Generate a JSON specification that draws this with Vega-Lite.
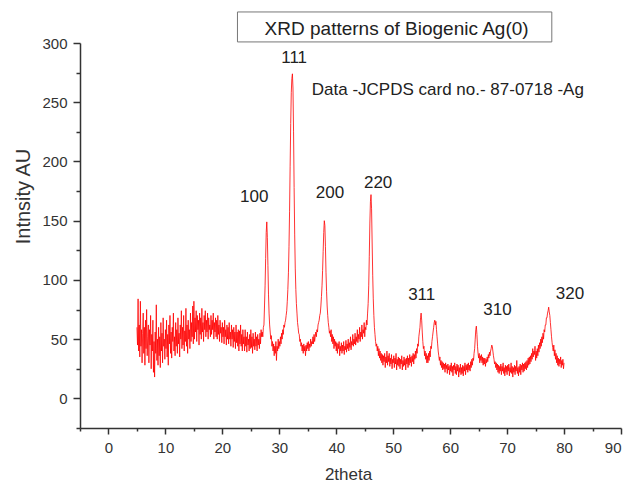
{
  "$schema": "https://vega.github.io/schema/vega-lite/v6.json",
  "autosize": {"type": "none"},
  "width": 541,
  "height": 385,
  "padding": {"left": 80, "top": 43, "right": 10, "bottom": 55},
  "background": "white",
  "config": {
    "view": {"stroke": null},
    "font": "Liberation Sans",
    "axis": {"grid": false, "domainColor": "#333", "tickColor": "#333", "labelColor": "#333", "titleColor": "#333", "domainWidth": 1.5, "tickWidth": 1.5, "labelFont": "Liberation Sans", "titleFont": "Liberation Sans", "titleFontWeight": "normal"}
  },
  "datasets": {
    "xrd": [
      {"x":5.0,"y":60},{"x":5.1,"y":45},{"x":5.2,"y":84},{"x":5.3,"y":40},{"x":5.4,"y":62},{"x":5.5,"y":35},{"x":5.6,"y":82},{"x":5.7,"y":44},{"x":5.8,"y":58},{"x":5.9,"y":30},
      {"x":6.0,"y":55},{"x":6.1,"y":72},{"x":6.2,"y":38},{"x":6.3,"y":60},{"x":6.4,"y":28},{"x":6.5,"y":66},{"x":6.6,"y":42},{"x":6.7,"y":75},{"x":6.8,"y":36},{"x":6.9,"y":52},
      {"x":7.0,"y":62},{"x":7.1,"y":30},{"x":7.2,"y":58},{"x":7.3,"y":45},{"x":7.4,"y":70},{"x":7.5,"y":25},{"x":7.6,"y":54},{"x":7.7,"y":40},{"x":7.8,"y":66},{"x":7.9,"y":22},
      {"x":8.0,"y":48},{"x":8.1,"y":18},{"x":8.2,"y":56},{"x":8.3,"y":38},{"x":8.4,"y":79},{"x":8.5,"y":32},{"x":8.6,"y":50},{"x":8.7,"y":28},{"x":8.8,"y":60},{"x":8.9,"y":36},
      {"x":9.0,"y":52},{"x":9.1,"y":26},{"x":9.2,"y":64},{"x":9.3,"y":40},{"x":9.4,"y":55},{"x":9.5,"y":30},{"x":9.6,"y":68},{"x":9.7,"y":44},{"x":9.8,"y":50},{"x":9.9,"y":33},
      {"x":10.0,"y":58},{"x":10.1,"y":42},{"x":10.2,"y":66},{"x":10.3,"y":35},{"x":10.4,"y":54},{"x":10.5,"y":28},{"x":10.6,"y":62},{"x":10.7,"y":46},{"x":10.8,"y":70},{"x":10.9,"y":38},
      {"x":11.0,"y":56},{"x":11.1,"y":34},{"x":11.2,"y":60},{"x":11.3,"y":48},{"x":11.4,"y":72},{"x":11.5,"y":40},{"x":11.6,"y":52},{"x":11.7,"y":36},{"x":11.8,"y":64},{"x":11.9,"y":44},
      {"x":12.0,"y":58},{"x":12.1,"y":38},{"x":12.2,"y":68},{"x":12.3,"y":46},{"x":12.4,"y":55},{"x":12.5,"y":35},{"x":12.6,"y":62},{"x":12.7,"y":50},{"x":12.8,"y":74},{"x":12.9,"y":42},
      {"x":13.0,"y":60},{"x":13.1,"y":45},{"x":13.2,"y":70},{"x":13.3,"y":40},{"x":13.4,"y":57},{"x":13.5,"y":48},{"x":13.6,"y":76},{"x":13.7,"y":44},{"x":13.8,"y":62},{"x":13.9,"y":38},
      {"x":14.0,"y":66},{"x":14.1,"y":50},{"x":14.2,"y":58},{"x":14.3,"y":42},{"x":14.4,"y":72},{"x":14.5,"y":48},{"x":14.6,"y":64},{"x":14.7,"y":52},{"x":14.8,"y":78},{"x":14.9,"y":46},
      {"x":15.0,"y":82},{"x":15.1,"y":50},{"x":15.2,"y":68},{"x":15.3,"y":56},{"x":15.4,"y":74},{"x":15.5,"y":48},{"x":15.6,"y":70},{"x":15.7,"y":58},{"x":15.8,"y":66},{"x":15.9,"y":45},
      {"x":16.0,"y":72},{"x":16.1,"y":54},{"x":16.2,"y":68},{"x":16.3,"y":50},{"x":16.4,"y":76},{"x":16.5,"y":56},{"x":16.6,"y":64},{"x":16.7,"y":48},{"x":16.8,"y":70},{"x":16.9,"y":58},
      {"x":17.0,"y":74},{"x":17.1,"y":52},{"x":17.2,"y":66},{"x":17.3,"y":56},{"x":17.4,"y":72},{"x":17.5,"y":50},{"x":17.6,"y":68},{"x":17.7,"y":58},{"x":17.8,"y":62},{"x":17.9,"y":52},
      {"x":18.0,"y":70},{"x":18.1,"y":54},{"x":18.2,"y":66},{"x":18.3,"y":58},{"x":18.4,"y":72},{"x":18.5,"y":50},{"x":18.6,"y":64},{"x":18.7,"y":56},{"x":18.8,"y":68},{"x":18.9,"y":52},
      {"x":19.0,"y":66},{"x":19.1,"y":50},{"x":19.2,"y":70},{"x":19.3,"y":54},{"x":19.4,"y":62},{"x":19.5,"y":48},{"x":19.6,"y":66},{"x":19.7,"y":55},{"x":19.8,"y":60},{"x":19.9,"y":47},
      {"x":20.0,"y":64},{"x":20.1,"y":52},{"x":20.2,"y":60},{"x":20.3,"y":46},{"x":20.4,"y":66},{"x":20.5,"y":52},{"x":20.6,"y":58},{"x":20.7,"y":45},{"x":20.8,"y":62},{"x":20.9,"y":50},
      {"x":21.0,"y":60},{"x":21.1,"y":46},{"x":21.2,"y":64},{"x":21.3,"y":50},{"x":21.4,"y":56},{"x":21.5,"y":44},{"x":21.6,"y":62},{"x":21.7,"y":50},{"x":21.8,"y":58},{"x":21.9,"y":43},
      {"x":22.0,"y":60},{"x":22.1,"y":48},{"x":22.2,"y":56},{"x":22.3,"y":42},{"x":22.4,"y":62},{"x":22.5,"y":47},{"x":22.6,"y":56},{"x":22.7,"y":44},{"x":22.8,"y":58},{"x":22.9,"y":40},
      {"x":23.0,"y":57},{"x":23.1,"y":46},{"x":23.2,"y":62},{"x":23.3,"y":44},{"x":23.4,"y":54},{"x":23.5,"y":40},{"x":23.6,"y":58},{"x":23.7,"y":46},{"x":23.8,"y":52},{"x":23.9,"y":40},
      {"x":24.0,"y":58},{"x":24.1,"y":44},{"x":24.2,"y":52},{"x":24.3,"y":39},{"x":24.4,"y":56},{"x":24.5,"y":45},{"x":24.6,"y":50},{"x":24.7,"y":40},{"x":24.8,"y":54},{"x":24.9,"y":42},
      {"x":25.0,"y":58},{"x":25.1,"y":43},{"x":25.2,"y":52},{"x":25.3,"y":38},{"x":25.4,"y":55},{"x":25.5,"y":44},{"x":25.6,"y":50},{"x":25.7,"y":41},{"x":25.8,"y":56},{"x":25.9,"y":44},
      {"x":26.0,"y":52},{"x":26.1,"y":40},{"x":26.2,"y":54},{"x":26.3,"y":45},{"x":26.4,"y":50},{"x":26.5,"y":42},{"x":26.6,"y":55},{"x":26.7,"y":46},{"x":26.8,"y":58},{"x":26.9,"y":52},
      {"x":27.0,"y":56},{"x":27.1,"y":52},{"x":27.2,"y":60},{"x":27.3,"y":62},{"x":27.4,"y":78},{"x":27.5,"y":95},{"x":27.6,"y":118},{"x":27.7,"y":140},{"x":27.8,"y":149},{"x":27.9,"y":136},
      {"x":28.0,"y":112},{"x":28.1,"y":88},{"x":28.2,"y":72},{"x":28.3,"y":62},{"x":28.4,"y":56},{"x":28.5,"y":50},{"x":28.6,"y":53},{"x":28.7,"y":44},{"x":28.8,"y":48},{"x":28.9,"y":40},
      {"x":29.0,"y":46},{"x":29.1,"y":36},{"x":29.2,"y":44},{"x":29.3,"y":38},{"x":29.4,"y":48},{"x":29.5,"y":32},{"x":29.6,"y":44},{"x":29.7,"y":40},{"x":29.8,"y":50},{"x":29.9,"y":42},
      {"x":30.0,"y":48},{"x":30.1,"y":44},{"x":30.2,"y":52},{"x":30.3,"y":46},{"x":30.4,"y":55},{"x":30.5,"y":50},{"x":30.6,"y":58},{"x":30.7,"y":54},{"x":30.8,"y":62},{"x":30.9,"y":60},
      {"x":31.0,"y":64},{"x":31.1,"y":66},{"x":31.2,"y":70},{"x":31.3,"y":74},{"x":31.4,"y":82},{"x":31.5,"y":92},{"x":31.6,"y":106},{"x":31.7,"y":128},{"x":31.8,"y":158},{"x":31.9,"y":196},
      {"x":32.0,"y":232},{"x":32.1,"y":258},{"x":32.2,"y":270},{"x":32.3,"y":274},{"x":32.4,"y":262},{"x":32.5,"y":225},{"x":32.6,"y":178},{"x":32.7,"y":138},{"x":32.8,"y":110},{"x":32.9,"y":92},
      {"x":33.0,"y":80},{"x":33.1,"y":72},{"x":33.2,"y":64},{"x":33.3,"y":60},{"x":33.4,"y":55},{"x":33.5,"y":54},{"x":33.6,"y":48},{"x":33.7,"y":50},{"x":33.8,"y":44},{"x":33.9,"y":47},
      {"x":34.0,"y":40},{"x":34.1,"y":45},{"x":34.2,"y":38},{"x":34.3,"y":46},{"x":34.4,"y":40},{"x":34.5,"y":44},{"x":34.6,"y":36},{"x":34.7,"y":45},{"x":34.8,"y":40},{"x":34.9,"y":47},
      {"x":35.0,"y":42},{"x":35.1,"y":48},{"x":35.2,"y":40},{"x":35.3,"y":46},{"x":35.4,"y":43},{"x":35.5,"y":50},{"x":35.6,"y":44},{"x":35.7,"y":48},{"x":35.8,"y":46},{"x":35.9,"y":52},
      {"x":36.0,"y":46},{"x":36.1,"y":54},{"x":36.2,"y":48},{"x":36.3,"y":52},{"x":36.4,"y":56},{"x":36.5,"y":52},{"x":36.6,"y":58},{"x":36.7,"y":56},{"x":36.8,"y":62},{"x":36.9,"y":64},
      {"x":37.0,"y":66},{"x":37.1,"y":70},{"x":37.2,"y":72},{"x":37.3,"y":78},{"x":37.4,"y":86},{"x":37.5,"y":95},{"x":37.6,"y":108},{"x":37.7,"y":124},{"x":37.8,"y":140},{"x":37.9,"y":150},
      {"x":38.0,"y":146},{"x":38.1,"y":128},{"x":38.2,"y":106},{"x":38.3,"y":90},{"x":38.4,"y":78},{"x":38.5,"y":70},{"x":38.6,"y":64},{"x":38.7,"y":60},{"x":38.8,"y":55},{"x":38.9,"y":57},
      {"x":39.0,"y":52},{"x":39.1,"y":58},{"x":39.2,"y":48},{"x":39.3,"y":54},{"x":39.4,"y":46},{"x":39.5,"y":52},{"x":39.6,"y":42},{"x":39.7,"y":50},{"x":39.8,"y":44},{"x":39.9,"y":48},
      {"x":40.0,"y":40},{"x":40.1,"y":47},{"x":40.2,"y":38},{"x":40.3,"y":46},{"x":40.4,"y":42},{"x":40.5,"y":48},{"x":40.6,"y":36},{"x":40.7,"y":44},{"x":40.8,"y":40},{"x":40.9,"y":47},
      {"x":41.0,"y":38},{"x":41.1,"y":45},{"x":41.2,"y":40},{"x":41.3,"y":48},{"x":41.4,"y":37},{"x":41.5,"y":44},{"x":41.6,"y":41},{"x":41.7,"y":49},{"x":41.8,"y":39},{"x":41.9,"y":46},
      {"x":42.0,"y":42},{"x":42.1,"y":50},{"x":42.2,"y":40},{"x":42.3,"y":47},{"x":42.4,"y":43},{"x":42.5,"y":52},{"x":42.6,"y":41},{"x":42.7,"y":48},{"x":42.8,"y":45},{"x":42.9,"y":54},
      {"x":43.0,"y":44},{"x":43.1,"y":50},{"x":43.2,"y":46},{"x":43.3,"y":55},{"x":43.4,"y":45},{"x":43.5,"y":52},{"x":43.6,"y":48},{"x":43.7,"y":58},{"x":43.8,"y":47},{"x":43.9,"y":54},
      {"x":44.0,"y":50},{"x":44.1,"y":60},{"x":44.2,"y":48},{"x":44.3,"y":56},{"x":44.4,"y":52},{"x":44.5,"y":62},{"x":44.6,"y":50},{"x":44.7,"y":58},{"x":44.8,"y":55},{"x":44.9,"y":64},
      {"x":45.0,"y":52},{"x":45.1,"y":60},{"x":45.2,"y":58},{"x":45.3,"y":66},{"x":45.4,"y":62},{"x":45.5,"y":72},{"x":45.6,"y":80},{"x":45.7,"y":95},{"x":45.8,"y":120},{"x":45.9,"y":148},
      {"x":46.0,"y":166},{"x":46.1,"y":172},{"x":46.2,"y":160},{"x":46.3,"y":132},{"x":46.4,"y":104},{"x":46.5,"y":84},{"x":46.6,"y":70},{"x":46.7,"y":60},{"x":46.8,"y":54},{"x":46.9,"y":48},
      {"x":47.0,"y":44},{"x":47.1,"y":46},{"x":47.2,"y":40},{"x":47.3,"y":44},{"x":47.4,"y":36},{"x":47.5,"y":42},{"x":47.6,"y":34},{"x":47.7,"y":40},{"x":47.8,"y":32},{"x":47.9,"y":38},
      {"x":48.0,"y":30},{"x":48.1,"y":37},{"x":48.2,"y":28},{"x":48.3,"y":36},{"x":48.4,"y":31},{"x":48.5,"y":38},{"x":48.6,"y":26},{"x":48.7,"y":35},{"x":48.8,"y":30},{"x":48.9,"y":40},
      {"x":49.0,"y":28},{"x":49.1,"y":36},{"x":49.2,"y":31},{"x":49.3,"y":38},{"x":49.4,"y":27},{"x":49.5,"y":34},{"x":49.6,"y":29},{"x":49.7,"y":37},{"x":49.8,"y":25},{"x":49.9,"y":33},
      {"x":50.0,"y":30},{"x":50.1,"y":36},{"x":50.2,"y":26},{"x":50.3,"y":34},{"x":50.4,"y":29},{"x":50.5,"y":38},{"x":50.6,"y":24},{"x":50.7,"y":33},{"x":50.8,"y":28},{"x":50.9,"y":35},
      {"x":51.0,"y":27},{"x":51.1,"y":34},{"x":51.2,"y":25},{"x":51.3,"y":33},{"x":51.4,"y":29},{"x":51.5,"y":36},{"x":51.6,"y":24},{"x":51.7,"y":32},{"x":51.8,"y":27},{"x":51.9,"y":35},
      {"x":52.0,"y":28},{"x":52.1,"y":33},{"x":52.2,"y":24},{"x":52.3,"y":34},{"x":52.4,"y":29},{"x":52.5,"y":36},{"x":52.6,"y":26},{"x":52.7,"y":34},{"x":52.8,"y":28},{"x":52.9,"y":37},
      {"x":53.0,"y":30},{"x":53.1,"y":35},{"x":53.2,"y":27},{"x":53.3,"y":36},{"x":53.4,"y":31},{"x":53.5,"y":38},{"x":53.6,"y":29},{"x":53.7,"y":37},{"x":53.8,"y":33},{"x":53.9,"y":40},
      {"x":54.0,"y":34},{"x":54.1,"y":42},{"x":54.2,"y":38},{"x":54.3,"y":46},{"x":54.4,"y":44},{"x":54.5,"y":52},{"x":54.6,"y":56},{"x":54.7,"y":60},{"x":54.8,"y":68},{"x":54.9,"y":72},
      {"x":55.0,"y":66},{"x":55.1,"y":56},{"x":55.2,"y":48},{"x":55.3,"y":42},{"x":55.4,"y":44},{"x":55.5,"y":36},{"x":55.6,"y":40},{"x":55.7,"y":33},{"x":55.8,"y":38},{"x":55.9,"y":30},
      {"x":56.0,"y":36},{"x":56.1,"y":30},{"x":56.2,"y":38},{"x":56.3,"y":32},{"x":56.4,"y":40},{"x":56.5,"y":35},{"x":56.6,"y":44},{"x":56.7,"y":42},{"x":56.8,"y":48},{"x":56.9,"y":52},
      {"x":57.0,"y":56},{"x":57.1,"y":60},{"x":57.2,"y":64},{"x":57.3,"y":66},{"x":57.4,"y":62},{"x":57.5,"y":65},{"x":57.6,"y":58},{"x":57.7,"y":52},{"x":57.8,"y":46},{"x":57.9,"y":40},
      {"x":58.0,"y":36},{"x":58.1,"y":32},{"x":58.2,"y":35},{"x":58.3,"y":28},{"x":58.4,"y":32},{"x":58.5,"y":26},{"x":58.6,"y":31},{"x":58.7,"y":24},{"x":58.8,"y":30},{"x":58.9,"y":25},
      {"x":59.0,"y":29},{"x":59.1,"y":22},{"x":59.2,"y":30},{"x":59.3,"y":25},{"x":59.4,"y":28},{"x":59.5,"y":21},{"x":59.6,"y":29},{"x":59.7,"y":24},{"x":59.8,"y":27},{"x":59.9,"y":20},
      {"x":60.0,"y":28},{"x":60.1,"y":23},{"x":60.2,"y":30},{"x":60.3,"y":22},{"x":60.4,"y":27},{"x":60.5,"y":19},{"x":60.6,"y":28},{"x":60.7,"y":24},{"x":60.8,"y":30},{"x":60.9,"y":21},
      {"x":61.0,"y":27},{"x":61.1,"y":20},{"x":61.2,"y":29},{"x":61.3,"y":23},{"x":61.4,"y":28},{"x":61.5,"y":18},{"x":61.6,"y":26},{"x":61.7,"y":22},{"x":61.8,"y":29},{"x":61.9,"y":20},
      {"x":62.0,"y":26},{"x":62.1,"y":21},{"x":62.2,"y":28},{"x":62.3,"y":19},{"x":62.4,"y":27},{"x":62.5,"y":23},{"x":62.6,"y":30},{"x":62.7,"y":20},{"x":62.8,"y":28},{"x":62.9,"y":24},
      {"x":63.0,"y":29},{"x":63.1,"y":22},{"x":63.2,"y":30},{"x":63.3,"y":24},{"x":63.4,"y":28},{"x":63.5,"y":23},{"x":63.6,"y":31},{"x":63.7,"y":26},{"x":63.8,"y":33},{"x":63.9,"y":28},
      {"x":64.0,"y":34},{"x":64.1,"y":32},{"x":64.2,"y":38},{"x":64.3,"y":42},{"x":64.4,"y":50},{"x":64.5,"y":58},{"x":64.6,"y":61},{"x":64.7,"y":54},{"x":64.8,"y":44},{"x":64.9,"y":38},
      {"x":65.0,"y":34},{"x":65.1,"y":38},{"x":65.2,"y":30},{"x":65.3,"y":36},{"x":65.4,"y":32},{"x":65.5,"y":37},{"x":65.6,"y":30},{"x":65.7,"y":35},{"x":65.8,"y":28},{"x":65.9,"y":34},
      {"x":66.0,"y":29},{"x":66.1,"y":34},{"x":66.2,"y":27},{"x":66.3,"y":33},{"x":66.4,"y":30},{"x":66.5,"y":35},{"x":66.6,"y":31},{"x":66.7,"y":37},{"x":66.8,"y":34},{"x":66.9,"y":39},
      {"x":67.0,"y":36},{"x":67.1,"y":40},{"x":67.2,"y":42},{"x":67.3,"y":45},{"x":67.4,"y":44},{"x":67.5,"y":40},{"x":67.6,"y":36},{"x":67.7,"y":33},{"x":67.8,"y":29},{"x":67.9,"y":31},
      {"x":68.0,"y":26},{"x":68.1,"y":30},{"x":68.2,"y":24},{"x":68.3,"y":29},{"x":68.4,"y":22},{"x":68.5,"y":28},{"x":68.6,"y":21},{"x":68.7,"y":27},{"x":68.8,"y":23},{"x":68.9,"y":29},
      {"x":69.0,"y":20},{"x":69.1,"y":27},{"x":69.2,"y":23},{"x":69.3,"y":30},{"x":69.4,"y":21},{"x":69.5,"y":26},{"x":69.6,"y":19},{"x":69.7,"y":28},{"x":69.8,"y":22},{"x":69.9,"y":27},
      {"x":70.0,"y":20},{"x":70.1,"y":28},{"x":70.2,"y":23},{"x":70.3,"y":29},{"x":70.4,"y":19},{"x":70.5,"y":26},{"x":70.6,"y":22},{"x":70.7,"y":30},{"x":70.8,"y":21},{"x":70.9,"y":27},
      {"x":71.0,"y":18},{"x":71.1,"y":26},{"x":71.2,"y":22},{"x":71.3,"y":28},{"x":71.4,"y":20},{"x":71.5,"y":27},{"x":71.6,"y":23},{"x":71.7,"y":32},{"x":71.8,"y":21},{"x":71.9,"y":26},
      {"x":72.0,"y":19},{"x":72.1,"y":27},{"x":72.2,"y":22},{"x":72.3,"y":29},{"x":72.4,"y":20},{"x":72.5,"y":28},{"x":72.6,"y":24},{"x":72.7,"y":30},{"x":72.8,"y":22},{"x":72.9,"y":29},
      {"x":73.0,"y":23},{"x":73.1,"y":30},{"x":73.2,"y":25},{"x":73.3,"y":31},{"x":73.4,"y":24},{"x":73.5,"y":32},{"x":73.6,"y":26},{"x":73.7,"y":34},{"x":73.8,"y":28},{"x":73.9,"y":35},
      {"x":74.0,"y":29},{"x":74.1,"y":36},{"x":74.2,"y":31},{"x":74.3,"y":38},{"x":74.4,"y":33},{"x":74.5,"y":42},{"x":74.6,"y":35},{"x":74.7,"y":40},{"x":74.8,"y":37},{"x":74.9,"y":44},
      {"x":75.0,"y":32},{"x":75.1,"y":40},{"x":75.2,"y":34},{"x":75.3,"y":42},{"x":75.4,"y":36},{"x":75.5,"y":45},{"x":75.6,"y":39},{"x":75.7,"y":47},{"x":75.8,"y":42},{"x":75.9,"y":50},
      {"x":76.0,"y":44},{"x":76.1,"y":52},{"x":76.2,"y":47},{"x":76.3,"y":55},{"x":76.4,"y":50},{"x":76.5,"y":58},{"x":76.6,"y":56},{"x":76.7,"y":62},{"x":76.8,"y":62},{"x":76.9,"y":68},
      {"x":77.0,"y":68},{"x":77.1,"y":72},{"x":77.2,"y":74},{"x":77.3,"y":77},{"x":77.4,"y":73},{"x":77.5,"y":70},{"x":77.6,"y":64},{"x":77.7,"y":58},{"x":77.8,"y":52},{"x":77.9,"y":47},
      {"x":78.0,"y":43},{"x":78.1,"y":40},{"x":78.2,"y":45},{"x":78.3,"y":36},{"x":78.4,"y":41},{"x":78.5,"y":33},{"x":78.6,"y":38},{"x":78.7,"y":30},{"x":78.8,"y":36},{"x":78.9,"y":28},
      {"x":79.0,"y":34},{"x":79.1,"y":27},{"x":79.2,"y":33},{"x":79.3,"y":29},{"x":79.4,"y":35},{"x":79.5,"y":26},{"x":79.6,"y":32},{"x":79.7,"y":28},{"x":79.8,"y":33},{"x":79.9,"y":25},
      {"x":80.0,"y":30}
    ],
    "box": [{"x1": 22.65, "x2": 77.85, "y1": 300.9, "y2": 326.2}],
    "peaks": [
      {"x": 25.6, "y": 170, "t": "100"},
      {"x": 32.6, "y": 287, "t": "111"},
      {"x": 38.9, "y": 173.5, "t": "200"},
      {"x": 47.35, "y": 182, "t": "220"},
      {"x": 55.0, "y": 87, "t": "311"},
      {"x": 68.3, "y": 74.6, "t": "310"},
      {"x": 81.05, "y": 88, "t": "320"}
    ],
    "note": [{"x": 35.7, "y": 260, "t": "Data -JCPDS card no.- 87-0718 -Ag"}],
    "ttl": [{"x": 50.6, "y": 312, "t": "XRD patterns of Biogenic Ag(0)"}]
  },
  "layer": [
    {
      "data": {"name": "xrd"},
      "mark": {"type": "line", "color": "#ff0000", "strokeWidth": 0.8},
      "encoding": {
        "x": {"field": "x", "type": "quantitative", "scale": {"domain": [-5, 90], "nice": false, "zero": false},
              "axis": {"orient": "bottom", "values": [0,10,20,30,40,50,60,70,80,90], "tickSize": 6, "labelPadding": 6, "labelFontSize": 15, "title": "2theta", "titleFontSize": 17, "titleBaseline": "alphabetic", "titleY": 51, "titleX": 268}},
        "y": {"field": "y", "type": "quantitative", "scale": {"domain": [-25, 300], "nice": false, "zero": false},
              "axis": {"orient": "left", "values": [0,50,100,150,200,250,300], "tickSize": 7, "labelPadding": 6, "labelFontSize": 15, "title": "Intnsity AU", "titleFontSize": 20, "titleBaseline": "alphabetic", "titleX": -51, "titleY": 153, "titleAngle": 270}}
      }
    },
    {
      "data": {"name": "box"},
      "mark": {"type": "rect", "fill": "white", "stroke": "#777", "strokeWidth": 1},
      "encoding": {
        "x": {"field": "x1", "type": "quantitative", "axis": {"orient": "bottom", "values": [-5,5,15,25,35,45,55,65,75,85], "labels": false, "domain": false, "tickSize": 3, "title": null}},
        "x2": {"field": "x2"},
        "y": {"field": "y1", "type": "quantitative", "axis": {"orient": "left", "values": [-25,25,75,125,175,225,275], "labels": false, "domain": false, "tickSize": 4, "title": null}},
        "y2": {"field": "y2"}
      }
    },
    {
      "data": {"name": "peaks"},
      "mark": {"type": "text", "fontSize": 17, "color": "#222", "align": "center", "baseline": "middle"},
      "encoding": {
        "x": {"field": "x", "type": "quantitative", "axis": null},
        "y": {"field": "y", "type": "quantitative", "axis": null},
        "text": {"field": "t"}
      }
    },
    {
      "data": {"name": "note"},
      "mark": {"type": "text", "fontSize": 17, "color": "#222", "align": "left", "baseline": "middle"},
      "encoding": {
        "x": {"field": "x", "type": "quantitative", "axis": null},
        "y": {"field": "y", "type": "quantitative", "axis": null},
        "text": {"field": "t"}
      }
    },
    {
      "data": {"name": "ttl"},
      "mark": {"type": "text", "fontSize": 19, "color": "#222", "align": "center", "baseline": "middle"},
      "encoding": {
        "x": {"field": "x", "type": "quantitative", "axis": null},
        "y": {"field": "y", "type": "quantitative", "axis": null},
        "text": {"field": "t"}
      }
    }
  ],
  "resolve": {"axis": {"x": "independent", "y": "independent"}}
}
